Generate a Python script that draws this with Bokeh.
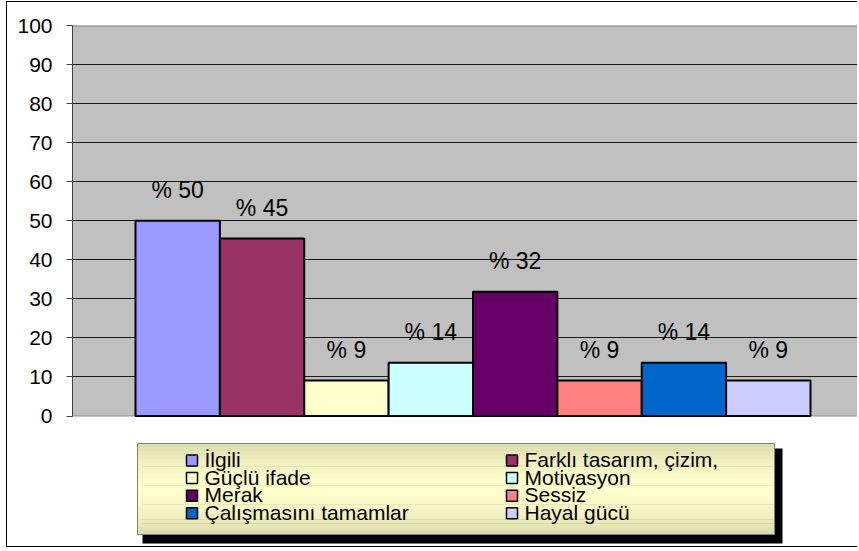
import numpy as np
from bokeh.plotting import figure
from bokeh.models import Range1d, FixedTicker, Span, BoxAnnotation
from bokeh.core.properties import value
from bokeh.embed import file_html
from bokeh.resources import INLINE

# ---------------- data ----------------
categories = ["İlgili", "Farklı tasarım, çizim,", " Güçlü ifade", "Motivasyon",
              "Merak", "Sessiz", "Çalışmasını tamamlar", "Hayal gücü"]
percentages = [50.0, 45.45, 9.09, 13.64, 31.82, 9.09, 13.64, 9.09]
bar_colors = ["#9999FF", "#993366", "#FFFFCC", "#CCFFFF",
              "#660066", "#FF8080", "#0066CC", "#CCCCFF"]
y_ticks = [0, 10, 20, 30, 40, 50, 60, 70, 80, 90, 100]
value_labels = ["% " + str(int(round(v))) for v in percentages]

FONT = "Liberation Sans"

# ---------------- figure ----------------
p = figure(width=851, height=546,
           x_range=Range1d(-1.2467, 8.069), y_range=Range1d(-33.93, 100),
           output_backend="svg", toolbar_location=None, x_axis_location=None,
           min_border_left=65, min_border_top=23, min_border_right=0, min_border_bottom=0,
           background_fill_color="white", border_fill_color="white",
           outline_line_color=None, margin=(1, 0, 0, 6))
p.styles = {"border-top": "1px solid #000000", "border-left": "1px solid #000000",
            "border-bottom": "1px solid #000000"}

# pixel-space coordinate system for the legend block
p.extra_x_ranges = {"px": Range1d(72, 858)}
p.extra_y_ranges = {"px": Range1d(548, 25)}

# plot area background (0..100)
p.add_layout(BoxAnnotation(bottom=0, top=100, fill_color="#C0C0C0", fill_alpha=1.0,
                           line_color=None, level="image"))
p.add_layout(Span(location=100, dimension="width", line_color="#808080",
                  line_width=2, level="underlay"))
p.add_layout(Span(location=0, dimension="width", line_color="#909090",
                  line_width=1, level="underlay"))

# y axis
ax = p.yaxis[0]
ax.ticker = FixedTicker(ticks=y_ticks)
ax.bounds = (0, 100)
ax.major_tick_out = 6
ax.major_tick_in = 0
ax.minor_tick_line_color = None
ax.axis_line_color = "#404040"
ax.major_tick_line_color = "#404040"
ax.major_label_text_font = FONT
ax.major_label_text_font_size = "21px"
ax.major_label_text_color = "#000000"
ax.major_label_standoff = 14

# grid
p.xgrid.visible = False
p.ygrid.ticker = FixedTicker(ticks=y_ticks[1:-1])
p.ygrid.grid_line_color = "#1a1a1a"
p.ygrid.grid_line_width = 1

# bars
idx = list(range(len(categories)))
p.vbar(x=idx, top=percentages, bottom=0, width=1.0, fill_color=bar_colors,
       line_color="#000000", line_width=2)

# value labels
p.text(x=idx, y=percentages, text=value_labels, y_offset=-31,
       text_align="center", text_baseline="middle",
       text_font=value(FONT), text_font_size="23px", text_color="#000000")

# ---------------- legend block (pixel coordinates) ----------------
L, T, R, B = 137, 443, 774, 534
SH_L, SH_T, SH_R, SH_B = 142, 448, 782, 543
p.quad(left=[SH_L], right=[SH_R], top=[SH_T], bottom=[SH_B], fill_color="#000000",
       line_color=None, x_range_name="px", y_range_name="px")

n = 24
edges = np.linspace(T, B, n + 1)
mids = (edges[:-1] + edges[1:]) / 2
c_mid = np.array([0xFF, 0xFF, 0xCC])
c_edge = np.array([0xDA, 0xDA, 0xAE])
strip_colors = []
for m in mids:
    t = abs(m - (T + B) / 2) / ((B - T) / 2)
    c = c_mid + (c_edge - c_mid) * t ** 1.6
    strip_colors.append("#%02x%02x%02x" % tuple(int(round(v)) for v in c))
p.quad(left=L, right=R, top=edges[:-1], bottom=edges[1:] + 0.5, fill_color=strip_colors,
       line_color=None, x_range_name="px", y_range_name="px")
p.quad(left=[L], right=[R], top=[T], bottom=[B], fill_color=None,
       line_color="#808080", line_width=1, x_range_name="px", y_range_name="px")

col_x = [186, 506]
row_y0, row_pitch = 460, 17.6
sw = 11
sw_left = [col_x[i % 2] for i in idx]
sw_y = [row_y0 + (i // 2) * row_pitch for i in idx]
p.quad(left=sw_left, right=[v + sw for v in sw_left],
       top=[y - sw / 2 for y in sw_y], bottom=[y + sw / 2 for y in sw_y],
       fill_color=bar_colors, line_color="#000000", line_width=1.5,
       x_range_name="px", y_range_name="px")
p.text(x=[v + sw + 7 for v in sw_left], y=[y - 1 for y in sw_y], text=categories,
       text_align="left", text_baseline="middle", text_font=value(FONT),
       text_font_size="21px", text_color="#000000",
       x_range_name="px", y_range_name="px")

open("out.html", "w").write(file_html(p, INLINE))
